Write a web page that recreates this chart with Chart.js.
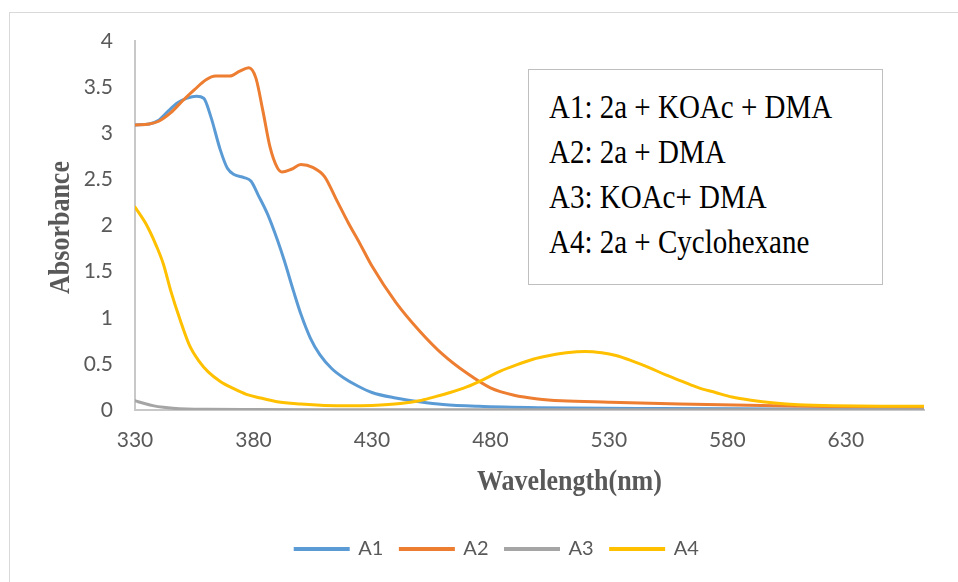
<!DOCTYPE html>
<html>
<head>
<meta charset="utf-8">
<script src="https://cdn.jsdelivr.net/npm/chart.js@4.4.1/dist/chart.umd.min.js"></script>
<style>
  html, body { margin: 0; padding: 0; background: #fff; overflow: hidden; }
  #wrap { position: relative; width: 958px; height: 582px; overflow: hidden; }
  #frame { position: absolute; left: 9px; top: 12px; width: 1000px; height: 700px; border: 1px solid #d9d9d9; box-sizing: border-box; }
  canvas { position: absolute; left: 0; top: 0; }
  #note { position: absolute; left: 528px; top: 69px; width: 355px; height: 216px; border: 1.5px solid #bfbfbf; box-sizing: border-box; background: #fff; padding: 16px 0 0 20px; font-family: "Liberation Serif", "Times New Roman", serif; font-size: 29px; line-height: 45px; color: #000; white-space: nowrap; }
  #note div { transform: scaleY(1.14); transform-origin: 0 32px; }
</style>
</head>
<body>
<div id="wrap">
  <div id="frame"></div>
  <canvas id="uvChart" width="958" height="582"></canvas>
  <div id="note"></div>
</div>
<script>
// spectra (wavelength in nm, absorbance)
const wlA1 = [330, 336, 340, 344, 348, 352, 356, 359, 362, 366, 369, 372, 376, 379, 382, 386, 390, 393, 397, 400, 404, 408, 413, 418, 424, 430, 440, 450, 460, 475, 500, 550, 600, 663];
const absA1 = [3.09, 3.10, 3.14, 3.24, 3.33, 3.38, 3.40, 3.38, 3.18, 2.82, 2.62, 2.55, 2.52, 2.48, 2.33, 2.12, 1.85, 1.62, 1.28, 1.04, 0.78, 0.60, 0.45, 0.35, 0.26, 0.19, 0.13, 0.09, 0.06, 0.04, 0.025, 0.015, 0.012, 0.01];

const wlA2 = [330, 336, 340, 345, 350, 355, 360, 364, 370, 374, 378, 381, 384, 387, 390, 392, 396, 400, 405, 410, 415, 420, 425, 430, 440, 450, 460, 470, 480, 490, 500, 510, 530, 560, 600, 630, 663];
const absA2 = [3.09, 3.10, 3.13, 3.22, 3.35, 3.47, 3.58, 3.62, 3.62, 3.67, 3.71, 3.60, 3.24, 2.85, 2.63, 2.58, 2.61, 2.66, 2.63, 2.53, 2.28, 2.03, 1.80, 1.56, 1.17, 0.86, 0.60, 0.40, 0.24, 0.16, 0.12, 0.10, 0.085, 0.065, 0.045, 0.035, 0.03];

const wlA3 = [330, 334, 338, 342, 346, 352, 360, 380, 420, 500, 663];
const absA3 = [0.10, 0.07, 0.045, 0.03, 0.02, 0.012, 0.008, 0.005, 0.003, 0.002, 0.002];

const wlA4 = [330, 335, 339, 342, 345, 349, 353, 357, 361, 366, 371, 377, 383, 390, 400, 410, 420, 430, 442, 450, 456, 463, 470, 477, 484, 491, 498, 505, 512, 520, 527, 533, 540, 547, 554, 561, 568, 575, 582, 590, 600, 610, 625, 645, 663];
const absA4 = [2.20, 2.00, 1.78, 1.58, 1.30, 0.98, 0.70, 0.53, 0.41, 0.31, 0.24, 0.17, 0.13, 0.09, 0.065, 0.05, 0.045, 0.05, 0.07, 0.10, 0.14, 0.19, 0.25, 0.33, 0.42, 0.49, 0.55, 0.59, 0.62, 0.635, 0.62, 0.59, 0.53, 0.46, 0.38, 0.31, 0.24, 0.19, 0.14, 0.105, 0.075, 0.057, 0.045, 0.04, 0.04];

const seriesNames = ['A1', 'A2', 'A3', 'A4'];
const seriesColors = ['#5b9bd5', '#ed7d31', '#a5a5a5', '#ffc000'];
const xTicks = [330, 380, 430, 480, 530, 580, 630];
const yTicks = [0, 0.5, 1, 1.5, 2, 2.5, 3, 3.5, 4];
const xTitle = 'Wavelength(nm)';
const yTitle = 'Absorbance';
const noteLines = ['A1: 2a + KOAc + DMA', 'A2: 2a + DMA', 'A3: KOAc+ DMA', 'A4: 2a + Cyclohexane'];

const toPoints = (xs, ys) => xs.map((x, i) => ({ x: x, y: ys[i] }));
const spectra = [[wlA1, absA1], [wlA2, absA2], [wlA3, absA3], [wlA4, absA4]];

// excel draws later series on top, chart.js draws low "order" on top
const datasets = spectra.map((s, i) => ({
  label: seriesNames[i],
  data: toPoints(s[0], s[1]),
  borderColor: seriesColors[i],
  backgroundColor: seriesColors[i],
  borderWidth: 3,
  borderCapStyle: 'round',
  pointRadius: 0,
  cubicInterpolationMode: 'monotone',
  order: spectra.length - i
}));

document.getElementById('note').innerHTML = noteLines.map(t => '<div>' + t + '</div>').join('');

// axis titles: the x one sits right of centre in the original, so draw both by hand
const axisTitles = {
  id: 'axisTitles',
  afterDraw(chart) {
    const { ctx, chartArea } = chart;
    ctx.save();
    ctx.fillStyle = '#595959';
    ctx.font = 'bold 26px "Liberation Serif"';
    ctx.textAlign = 'center';
    ctx.textBaseline = 'alphabetic';

    ctx.save();
    ctx.translate((chartArea.left + chartArea.right) / 2 + 40, 490);
    ctx.scale(1, 1.15);
    ctx.fillText(xTitle, 0, 0);
    ctx.restore();

    ctx.save();
    ctx.translate(69, (chartArea.top + chartArea.bottom) / 2 + 2);
    ctx.rotate(-Math.PI / 2);
    ctx.scale(1, 1.15);
    ctx.fillText(yTitle, 0, 0);
    ctx.restore();

    ctx.restore();
  }
};

const tickFont = { family: 'Lato', size: 21 };

const ctx = document.getElementById('uvChart').getContext('2d');
new Chart(ctx, {
  type: 'line',
  data: { datasets: datasets },
  options: {
    responsive: false,
    animation: false,
    layout: { padding: { left: 70, right: 34, top: 41, bottom: 13 } },
    scales: {
      x: {
        type: 'linear',
        min: 330,
        max: 663,
        grid: { display: false, drawTicks: false },
        border: { color: '#c8c8c8', width: 2 },
        ticks: { padding: 18, color: '#595959', font: tickFont, callback: v => String(v) },
        afterBuildTicks: s => { s.ticks = xTicks.map(v => ({ value: v })); },
        afterFit: s => { s.height = 112; }
      },
      y: {
        min: 0,
        max: 4,
        grid: { display: false, drawTicks: false },
        border: { color: '#c8c8c8', width: 2 },
        ticks: { padding: 22, color: '#595959', font: tickFont, callback: v => String(v) },
        afterBuildTicks: s => { s.ticks = yTicks.map(v => ({ value: v })); },
        afterFit: s => { s.width = 65; }
      }
    },
    plugins: {
      legend: {
        position: 'bottom',
        labels: {
          boxWidth: 53,
          boxHeight: 1,
          padding: 17,
          color: '#595959',
          font: { family: 'Lato', size: 20 },
          sort: (a, b) => a.datasetIndex - b.datasetIndex
        }
      },
      tooltip: { enabled: false }
    }
  },
  plugins: [axisTitles]
});
</script>
</body>
</html>
